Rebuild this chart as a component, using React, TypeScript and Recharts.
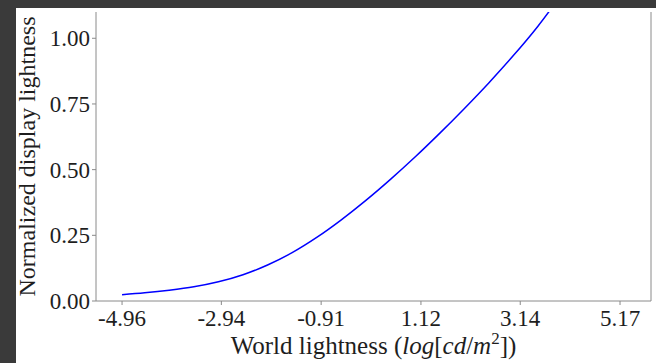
import React from 'react';
import { LineChart, Line, XAxis, YAxis } from 'recharts';

// world lightness (log cd/m^2) vs normalized display lightness
const worldLightness = [-4.96, -4.5, -4.0, -3.5, -3.0, -2.5, -2.0, -1.5, -1.0, -0.5, 0, 0.5, 1.0, 1.5, 2.0, 2.5, 3.0, 3.5, 4.0];
const displayLightness = [0.024, 0.031, 0.041, 0.054, 0.073, 0.1, 0.137, 0.184, 0.242, 0.309, 0.383, 0.463, 0.548, 0.638, 0.732, 0.83, 0.934, 1.046, 1.172];

const xTicks = [-4.96, -2.94, -0.91, 1.12, 3.14, 5.17];
const yTicks = [0, 0.25, 0.5, 0.75, 1.0];

const data = worldLightness.map((x, i) => ({ x, y: displayLightness[i] }));

const FONT = '"Liberation Serif", "Times New Roman", serif';
const FRAME = '#8a8a8a';
const TEXT = '#1e1e1e';

const XLabel = ({ viewBox }: any) => {
  const cx = viewBox.x + viewBox.width / 2;
  return (
    <text x={cx} y={354} textAnchor="middle" fontFamily={FONT} fontSize={25} fill={TEXT}>
      World lightness (
      <tspan fontStyle="italic">log</tspan>
      [<tspan fontStyle="italic">cd</tspan>/<tspan fontStyle="italic">m</tspan>
      <tspan fontSize={17} dy={-10}>2</tspan>
      <tspan dy={10}>])</tspan>
    </text>
  );
};

const YLabel = ({ viewBox }: any) => {
  const cy = viewBox.y + viewBox.height / 2;
  return (
    <text x={35} y={cy} transform={`rotate(-90, 35, ${cy})`} textAnchor="middle" fontFamily={FONT} fontSize={24} fill={TEXT}>
      Normalized display lightness
    </text>
  );
};

export default function App() {
  const tickStyle = { fontFamily: FONT, fontSize: 23, fill: TEXT };
  return (
    <div style={{ position: 'fixed', inset: 0, background: '#3a3a3a' }}>
      <div style={{ position: 'absolute', left: 16, top: 8, width: 640, height: 355, background: '#ffffff' }} />
      <div style={{ position: 'absolute', left: 0, top: 0 }}>
        <LineChart width={656} height={363} data={data} margin={{ top: 12, right: 4, left: 0, bottom: 0 }}>
          <XAxis
            type="number"
            dataKey="x"
            domain={[-5.49, 5.8]}
            allowDataOverflow
            ticks={xTicks}
            interval={0}
            tickFormatter={(v: number) => v.toFixed(2)}
            height={62}
            stroke={FRAME}
            tickSize={4}
            tickMargin={5}
            tick={tickStyle}
            label={<XLabel />}
          />
          <XAxis xAxisId="top" orientation="top" type="number" domain={[-5.49, 5.8]} height={0} tick={false} tickLine={false} stroke={FRAME} />
          <YAxis
            type="number"
            domain={[0, 1.1]}
            allowDataOverflow
            ticks={yTicks}
            interval={0}
            tickFormatter={(v: number) => v.toFixed(2)}
            width={96}
            stroke={FRAME}
            tickSize={4}
            tickMargin={2}
            tick={tickStyle}
            label={<YLabel />}
          />
          <YAxis yAxisId="right" orientation="right" type="number" domain={[0, 1.1]} width={1} tick={false} tickLine={false} stroke={FRAME} />
          <Line
            type="monotone"
            dataKey="y"
            stroke="#0000ff"
            strokeWidth={1.5}
            dot={false}
            isAnimationActive={false}
          />
        </LineChart>
      </div>
    </div>
  );
}
